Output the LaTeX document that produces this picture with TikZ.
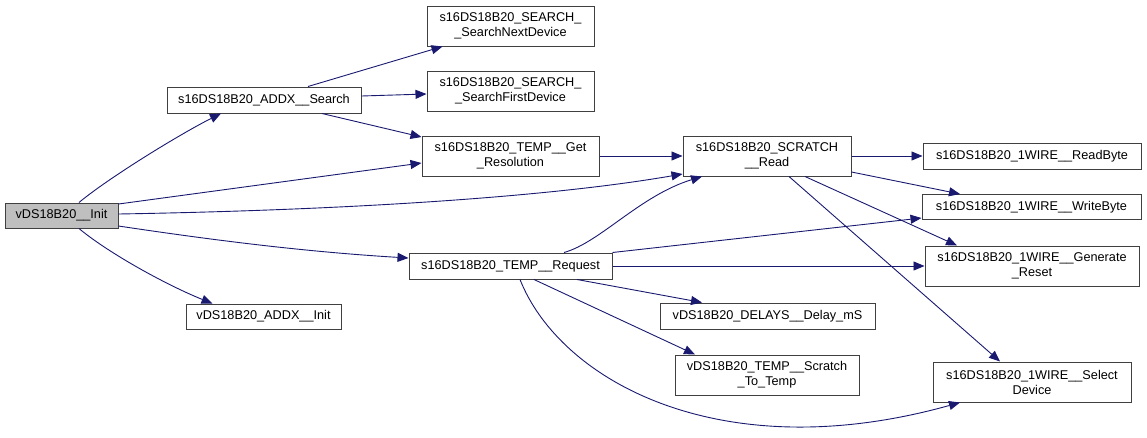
\documentclass[tikz,border=0pt]{standalone}
\usepackage{fontspec}
\setmainfont{Liberation Sans}
\usetikzlibrary{arrows.meta}
\definecolor{edgec}{HTML}{191970}
\definecolor{boxc}{HTML}{404040}
\definecolor{curfill}{HTML}{BFBFBF}
\tikzset{
  fn/.style={draw=boxc, line width=1pt, fill=white, inner sep=0pt, align=center,
    font=\fontsize{12.7pt}{15pt}\selectfont},
  cur/.style={fn, fill=curfill},
  call/.style={draw=edgec, line width=0.9pt, -{Triangle[length=11pt,width=9pt]}},
}
\begin{document}
\begin{tikzpicture}[x=1pt,y=-1pt]
\useasboundingbox (0,0) rectangle (1147,437);
% nodes
\node[cur, minimum width=113pt, minimum height=25pt] (init) at (61.5,215.5) {vDS18B20\_\_Init};
\node[fn, minimum width=194pt, minimum height=26pt] (search) at (264,100) {s16DS18B20\_ADDX\_\_Search};
\node[fn, minimum width=155pt, minimum height=25pt] (addxinit) at (263.5,316.5) {vDS18B20\_ADDX\_\_Init};
\node[fn, minimum width=167pt, minimum height=40pt] (next) at (510.5,26) {s16DS18B20\_SEARCH\_\\\_SearchNextDevice};
\node[fn, minimum width=167pt, minimum height=40pt] (first) at (510.5,91) {s16DS18B20\_SEARCH\_\\\_SearchFirstDevice};
\node[fn, minimum width=177pt, minimum height=40pt] (getres) at (510.5,156) {s16DS18B20\_TEMP\_\_Get\\\_Resolution};
\node[fn, minimum width=203pt, minimum height=26pt] (request) at (510.5,266) {s16DS18B20\_TEMP\_\_Request};
\node[fn, minimum width=168pt, minimum height=40pt] (scratch) at (767,156) {s16DS18B20\_SCRATCH\\\_\_Read};
\node[fn, minimum width=215pt, minimum height=26pt] (delays) at (767.5,316) {vDS18B20\_DELAYS\_\_Delay\_mS};
\node[fn, minimum width=184pt, minimum height=40pt] (totemp) at (767,375) {vDS18B20\_TEMP\_\_Scratch\\\_To\_Temp};
\node[fn, minimum width=218pt, minimum height=26pt] (readbyte) at (1032,156) {s16DS18B20\_1WIRE\_\_ReadByte};
\node[fn, minimum width=219pt, minimum height=25pt] (writebyte) at (1031.5,207) {s16DS18B20\_1WIRE\_\_WriteByte};
\node[fn, minimum width=214pt, minimum height=40pt] (reset) at (1032,266) {s16DS18B20\_1WIRE\_\_Generate\\\_Reset};
\node[fn, minimum width=198pt, minimum height=40pt] (select) at (1032,382) {s16DS18B20\_1WIRE\_\_Select\\Device};
% edges from init
\draw[call] ([xshift=17.5pt]init.north) .. controls +(30,-25) and +(-40,20) .. ([xshift=-43pt]search.south);
\draw[call] ([yshift=11.5pt]init.east) -- ([yshift=-7pt]getres.west);
\draw[call] ([yshift=1.5pt]init.east) .. controls +(232,-4) and +(-133,23) .. ([yshift=-18pt]scratch.west);
\draw[call] ([yshift=-10.5pt]init.east) .. controls +(100,15) and +(-100,-6) .. ([yshift=8pt]request.west);
\draw[call] ([xshift=17.5pt]init.south) .. controls +(30,25) and +(-45,-18) .. ([xshift=-51pt]addxinit.north);
% edges from search
\draw[call] ([xshift=44pt]search.north) -- ([xshift=-68pt]next.south);
\draw[call] ([yshift=4pt]search.east) -- ([yshift=-3pt]first.west);
\draw[call] ([xshift=58pt]search.south) -- ([yshift=19pt]getres.west);
% getres
\draw[call] (getres.east) -- (scratch.west);
% edges from request
\draw[call] ([xshift=53.5pt]request.north) .. controls +(36,-10) and +(-62,19) .. ([xshift=-65pt]scratch.south);
\draw[call] (request.north east) -- ([yshift=-11pt]writebyte.west);
\draw[call] (request.east) -- (reset.west);
\draw[call] ([xshift=66.5pt]request.south) -- ([xshift=-65.5pt]delays.north);
\draw[call] ([xshift=23.5pt]request.south) -- ([xshift=-72pt]totemp.north);
\draw[call] ([xshift=9.5pt]request.south) .. controls +(40,101) and +(-240,67) .. ([xshift=-72pt]select.south);
% edges from scratch
\draw[call] (scratch.east) -- (readbyte.west);
\draw[call] ([yshift=-16pt]scratch.east) -- ([xshift=-71.5pt]writebyte.north);
\draw[call] ([xshift=38pt]scratch.south) -- ([xshift=-75pt]reset.north);
\draw[call] ([xshift=22pt]scratch.south) -- ([xshift=-32pt]select.north);
\end{tikzpicture}
\end{document}
